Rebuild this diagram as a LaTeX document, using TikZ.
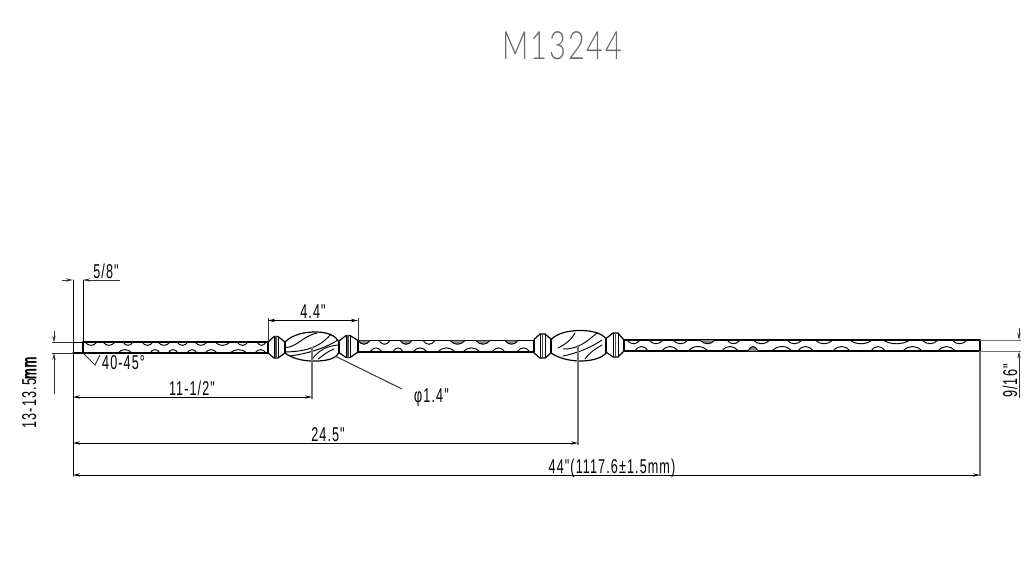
\documentclass[tikz,border=0pt]{standalone}
\usepackage{fontspec}
\usetikzlibrary{arrows.meta}
\newfontfamily\cadfont[FakeStretch=0.63,LetterSpace=5.5]{Liberation Sans}
\newfontfamily\titlefont[FakeStretch=0.74,LetterSpace=5]{Lato Light}
\definecolor{extgrey}{gray}{0.45}
\definecolor{titlegrey}{gray}{0.42}
\newcommand{\scallops}[4]{% list of a/b, baseline y, depth, style
  \foreach \a/\b in {#1} {
    \draw[#4] (\a,#2) .. controls ({\a+0.28*(\b-\a)},{#2+#3}) and ({\a+0.72*(\b-\a)},{#2+#3}) .. (\b,#2);
  }
}
\newcommand{\collarshape}[8]{% x1 x2 x3 x4, left top, left bot, right top, right bot
  \draw[part] (#1,#5) -- (#2,{#5-5.5}) -- (#3,{#5-5.5}) -- (#4,#7);
  \draw[part] (#1,#6) -- (#2,{#6+5}) -- (#3,{#6+5}) -- (#4,#8);
  \draw[part,line width=0.8pt] (#2,{#5-5.5}) -- (#2,{#6+5});
  \draw[part,line width=1.5pt,black!70] ({(#2+#3)/2},{#5-5.5}) -- ({(#2+#3)/2},{#6+5});
  \draw[part,line width=0.8pt] (#3,{#5-5.5}) -- (#3,{#6+5});
}
\tikzset{
  part/.style={draw=black,line width=1.2pt,line cap=round,line join=round},
  thin part/.style={draw=black,line width=.95pt,line cap=round},
  scfill/.style={draw=black,line width=.95pt,fill=black!45},
  tip/.style={-{Stealth[length=7pt,width=3.4pt]}},
  dimline/.style={draw=black,line width=.8pt,{Stealth[length=7pt,width=3.4pt]}-{Stealth[length=7pt,width=3.4pt]}},
  extline/.style={draw=black!80,line width=.8pt},
  exttone/.style={draw=extgrey,line width=1.1pt},
  dimtext/.style={font=\cadfont\fontsize{20}{20}\selectfont,inner sep=0pt,text=black},
}
\begin{document}
\begin{tikzpicture}[x=1pt,y=-1pt]
\useasboundingbox (0,0) rectangle (1035,560);
% title
\node[inner sep=0pt,text=titlegrey,font=\titlefont\fontsize{39}{39}\selectfont] (title) at (562.5,45.5) {M13244};

% bar outline
\coordinate (bl1) at (83,342); \coordinate (bl2) at (83,353);
\draw[part] (73,342.5) -- (83,342.5) (73,353) -- (83,353);
\draw[part,line width=1.7pt] (bl1) -- (bl2);
\draw[part] (bl1) -- (268,342) (bl2) -- (268,353);
\draw[part] (268,342) -- (268,353);
\draw[part] (358,340.5) -- (534,340.5) (358,352) -- (534,352);
\draw[part] (358,340.5) -- (358,352) (534,340.5) -- (534,352);
\draw[part] (624,340) -- (980,340) (624,351) -- (980,351);
\draw[part] (624,340) -- (624,351) (980,340) -- (980,351);

% scallops on the top edge
\scallops{85/97,103/115,123/133,142/153,158/170,177/188,195/207,215/230,237/248,257/266}{342}{4.5}{thin part}
\scallops{358/370,400/412,450/465,476/490,505/518}{340.5}{5}{scfill}
\scallops{379/390,423/435}{340.5}{5}{thin part}
\scallops{627/640,649/663,673/688,727/740,753/770,787/802,815/833,850/872,883/910,922/938,952/967}{340}{5}{thin part}
\scallops{700/715}{340}{5}{scfill}
% scallops on the bottom edge
\scallops{118/132,150/160,168/178,187/197,205/217,230/247,255/266}{353}{-4.5}{thin part}
\scallops{370/382,393/403,413/427,438/455,463/480,492/505,517/530}{352}{-5.5}{thin part}
\scallops{635/648,662/678,688/708,722/738,772/792,798/813,833/850,871/885,903/922,938/955}{351}{-6}{thin part}
\scallops{748/758}{351}{-6}{scfill}

% collars
\collarshape{268}{274}{278}{285}{342}{353}{342}{353}
\collarshape{339}{346}{350}{358}{341}{352.5}{340.5}{352}
\collarshape{534}{540}{545}{551}{339.5}{353}{339}{353}
\collarshape{606}{613}{618}{624}{338.5}{352}{340}{351}

% bulb 1
\draw[part] (285,342) .. controls (293,334) and (305,332) .. (316,332) .. controls (328,332) and (336,336) .. (339,342);
\draw[part] (285,353) .. controls (293,359) and (305,361.5) .. (316,361) .. controls (328,361) and (336,358) .. (339,353);
\draw[part] (285,342) -- (285,353) (339,342) -- (339,353);
\draw[thin part] (286,347.5) .. controls (297,347) and (303,336) .. (317,333);
\draw[thin part] (285,352) .. controls (300,351.5) and (318,350) .. (331,334);
\draw[thin part] (290,356) .. controls (304,354) and (322,350) .. (338,340);
\draw[thin part] (312,359.5) .. controls (318,351) and (326,346) .. (338,345);
\draw[thin part] (318,359) .. controls (324,355) and (328,351) .. (334,349);

% bulb 2
\draw[part] (551,339.5) .. controls (558,332.5) and (570,330.5) .. (580,330.5) .. controls (592,330.5) and (602,333) .. (606,339);
\draw[part] (551,353) .. controls (558,358) and (570,361) .. (580,361) .. controls (592,361) and (602,358) .. (606,353);
\draw[part] (551,339.5) -- (551,353) (606,339) -- (606,353);
\draw[thin part] (558,348) .. controls (566,344) and (572,339) .. (575,333);
\draw[thin part] (563,349) .. controls (578,349) and (585,343) .. (597,333);
\draw[thin part] (563,356) .. controls (578,353) and (592,347) .. (602,340);
\draw[thin part] (585,359) .. controls (589,353) and (595,349) .. (602,345);

% chamfer mark
\coordinate (ch0) at (83,353); \coordinate (ch1) at (95,365); \coordinate (ch2) at (100,355);
\draw[extline,line width=1pt] (ch0) -- (ch1) -- (ch2);
\node[dimtext,anchor=base west] (angle) at (102,369.5) {40-45°};

% extension lines
\coordinate (e73t) at (73,280); \coordinate (e83t) at (83,280);
\coordinate (e73b) at (73,476);
\draw[part,line width=1pt] (e73t) -- (e73b);
\draw[part,line width=1pt] (e83t) -- (83,342);
\coordinate (e980b) at (980,476);
\draw[exttone] (980,351) -- (e980b);
\coordinate (e312) at (312,399); \draw[exttone] (312,347) -- (e312);
\coordinate (e578) at (578,445); \draw[exttone] (578,345) -- (e578);
\coordinate (e268) at (268,318); \draw[extline] (e268) -- (268,342);
\coordinate (e358) at (358,318); \draw[extline] (e358) -- (358,340.5);

% 5/8
\coordinate (d58a) at (62,280); \coordinate (d58b) at (120,280);
\draw[extline,tip] (d58a) -- (e73t);
\draw[extline,tip] (d58b) -- (e83t);
\node[dimtext,anchor=base] (l58) at (106,278) {5/8"};

% 13-13.5mm
\coordinate (h1) at (54,331); \coordinate (h2) at (54,394);
\coordinate (h1e) at (54,342.5); \coordinate (h2e) at (54,353);
\draw[extline,tip] (h1) -- (h1e);
\draw[extline,tip] (h2) -- (h2e);
\draw[extline] (52,342.5) -- (73,342.5) (52,353) -- (73,353);
\node[dimtext,rotate=90,anchor=base] (lh) at (36,392.5) {13-13.5{\addfontfeature{FakeBold=3}mm}};

% chain of horizontal dimensions
\coordinate (d1a) at (73,397); \coordinate (d1b) at (312,397);
\draw[dimline] (d1a) -- (d1b);
\node[dimtext,anchor=base] (l1) at (192,395) {11-1/2"};
\coordinate (d2a) at (73,443); \coordinate (d2b) at (578,443);
\draw[dimline] (d2a) -- (d2b);
\node[dimtext,anchor=base] (l2) at (328,441) {24.5"};
\coordinate (d3a) at (73,475); \coordinate (d3b) at (980,475);
\draw[dimline] (d3a) -- (d3b);
\node[dimtext,anchor=base] (l3) at (612,473) {44"(1117.6±1.5mm)};
\coordinate (d4a) at (268,320.5); \coordinate (d4b) at (358,320.5);
\draw[dimline] (d4a) -- (d4b);
\node[dimtext,anchor=base] (l4) at (313,318) {4.4"};

% diameter leader
\coordinate (ld1) at (335,356); \coordinate (ld2) at (402,389);
\draw[extline,line width=1pt] (ld1) -- (ld2);
\node[dimtext,anchor=base west] (ldt) at (414,402.5) {φ1.4"};

% 9/16
\coordinate (v1) at (1019,328); \coordinate (v2) at (1019,398);
\coordinate (v1e) at (1019,340); \coordinate (v2e) at (1019,351.5);
\draw[extline,tip] (v1) -- (v1e);
\draw[extline,tip] (v2) -- (v2e);
\draw[exttone,line width=.8pt] (980,340) -- (1021,340) (980,351.5) -- (1021,351.5);
\node[dimtext,rotate=90,anchor=base] (lv) at (1017,381) {9/16"};
\end{tikzpicture}
\end{document}
